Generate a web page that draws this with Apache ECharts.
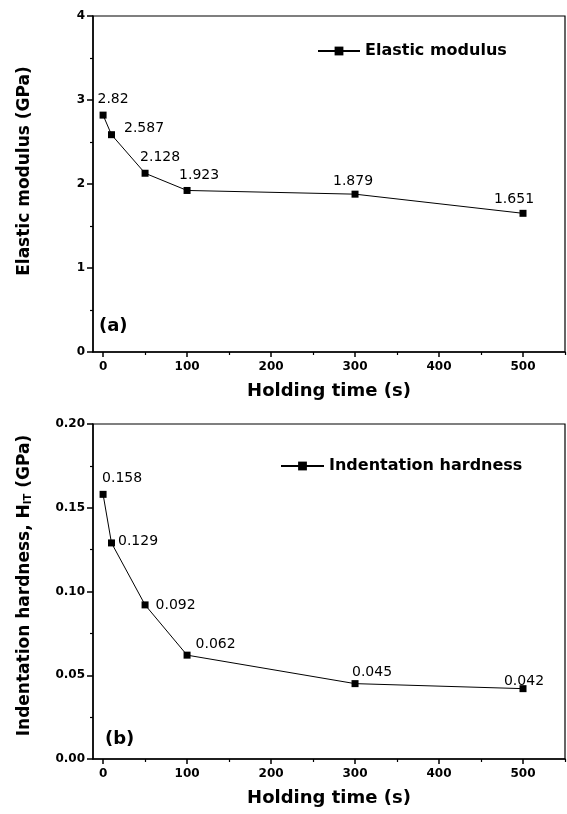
<!DOCTYPE html>
<html>
<head>
<meta charset="utf-8">
<script src="https://cdn.jsdelivr.net/npm/echarts@6.0.0/dist/echarts.min.js"></script>
<style>
  html, body { margin: 0; padding: 0; background: #fff; }
  #chart { width: 567px; height: 814px; }
</style>
</head>
<body>
<div id="chart"></div>
<script>
// data
var holdTime = [0, 10, 50, 100, 300, 500];
var modulus = [2.82, 2.587, 2.128, 1.923, 1.879, 1.651];
var hardness = [0.158, 0.129, 0.092, 0.062, 0.045, 0.042];
var xTicks = [0, 100, 200, 300, 400, 500];
var xMinorTicks = [50, 150, 250, 350, 450, 550];

// label placement per point (style only)
var modLabelPos = [
    ['top', [10, 0]], ['right', [4, -6]], ['top', [15, 0]],
    ['top', [12, 0]], ['top', [-2, 3]], ['top', [-9, 2]]
];
var hardLabelPos = [
    ['top', [19, 0]], ['right', [-2, -2]], ['right', [2, 0]],
    ['right', [0, -11]], ['top', [17, 4]], ['top', [1, 8]]
];

var boldFont = 'DejaVu Sans';

function points(ys, pos) {
    return holdTime.map(function (x, i) {
        return {
            value: [x, ys[i]],
            label: { position: pos[i][0], offset: pos[i][1] }
        };
    });
}

function mainX(gi, name) {
    return {
        gridIndex: gi, type: 'value', min: -12, max: 550,
        name: name, nameLocation: 'middle', nameGap: 30,
        nameTextStyle: { fontFamily: boldFont, fontWeight: 'bold', fontSize: 18, color: '#000' },
        axisLine: { onZero: false, lineStyle: { color: '#000', width: 1.5 } },
        axisTick: { customValues: xTicks, length: 5, lineStyle: { color: '#000', width: 1.5 } },
        axisLabel: { customValues: xTicks, margin: 9, fontFamily: boldFont, fontWeight: 'bold', fontSize: 12, color: '#000' },
        splitLine: { show: false }
    };
}
function minorX(gi) {
    return {
        gridIndex: gi, type: 'value', min: -12, max: 550, position: 'bottom',
        axisLine: { show: false },
        axisTick: { customValues: xMinorTicks, length: 3, lineStyle: { color: '#000', width: 1.2 } },
        axisLabel: { show: false },
        splitLine: { show: false }
    };
}
function mainY(gi, max, interval, name, fmt, pad) {
    return {
        gridIndex: gi, type: 'value', min: 0, max: max, interval: interval,
        name: name, nameLocation: 'middle', nameGap: 60,
        nameTextStyle: {
            fontFamily: boldFont, fontWeight: 'bold', fontSize: 17, color: '#000',
            padding: [0, 0, 0, pad],
            rich: {
                sub: { fontFamily: boldFont, fontWeight: 'bold', fontSize: 10, color: '#000', verticalAlign: 'bottom', padding: [6, 0, 0, 0] }
            }
        },
        axisLine: { onZero: false, lineStyle: { color: '#000', width: 1.5 } },
        axisTick: { length: 6, lineStyle: { color: '#000', width: 1.5 } },
        minorTick: { show: true, splitNumber: 2, length: 3, lineStyle: { color: '#000', width: 1.2 } },
        axisLabel: { margin: 8, formatter: fmt, fontFamily: boldFont, fontWeight: 'bold', fontSize: 12, color: '#000' },
        splitLine: { show: false }
    };
}

function seriesOf(name, gi, ys, pos) {
    return {
        name: name, type: 'line',
        xAxisIndex: gi * 2, yAxisIndex: gi,
        data: points(ys, pos),
        symbol: 'rect', symbolSize: 7,
        itemStyle: { color: '#000' },
        lineStyle: { color: '#000', width: 1 },
        label: {
            show: true, distance: 5,
            fontFamily: 'DejaVu Sans', fontSize: 14, color: '#000',
            formatter: function (p) { return p.value[1]; }
        },
        animation: false
    };
}

var myChart = echarts.init(document.getElementById('chart'));
var option = {
    backgroundColor: '#fff',
    grid: [
        { left: 93, top: 16, width: 472, height: 336, show: true, borderColor: '#000', borderWidth: 1.2 },
        { left: 93, top: 424, width: 472, height: 335, show: true, borderColor: '#000', borderWidth: 1.2 }
    ],
    legend: [
        {
            data: ['Elastic modulus'], left: 312, top: 38, itemWidth: 42, itemHeight: 11, itemGap: 0,
            textStyle: { fontFamily: boldFont, fontWeight: 'bold', fontSize: 16, color: '#000' }
        },
        {
            data: ['Indentation hardness'], left: 275, top: 453, itemWidth: 43, itemHeight: 11, itemGap: 0,
            textStyle: { fontFamily: boldFont, fontWeight: 'bold', fontSize: 16, color: '#000' }
        }
    ],
    xAxis: [
        mainX(0, 'Holding time (s)'), minorX(0),
        mainX(1, 'Holding time (s)'), minorX(1)
    ],
    yAxis: [
        mainY(0, 4, 1, 'Elastic modulus (GPa)', '{value}', 26),
        mainY(1, 0.2, 0.05, 'Indentation hardness, H{sub|IT} (GPa)', function (v) { return v.toFixed(2); }, 12)
    ],
    series: [
        seriesOf('Elastic modulus', 0, modulus, modLabelPos),
        seriesOf('Indentation hardness', 1, hardness, hardLabelPos)
    ],
    graphic: [
        { type: 'text', left: 99, top: 317, style: { text: '(a)', fontFamily: boldFont, fontWeight: 'bold', fontSize: 18, fill: '#000' } },
        { type: 'text', left: 105, top: 730, style: { text: '(b)', fontFamily: boldFont, fontWeight: 'bold', fontSize: 18, fill: '#000' } }
    ]
};
myChart.setOption(option);
</script>
</body>
</html>
